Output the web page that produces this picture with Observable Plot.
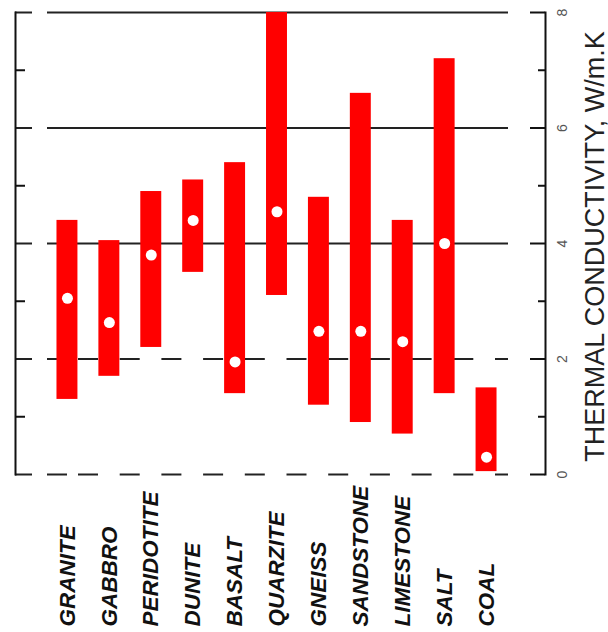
<!DOCTYPE html>
<html><head><meta charset="utf-8">
<script src="https://cdn.jsdelivr.net/npm/d3@7"></script>
<script src="https://cdn.jsdelivr.net/npm/@observablehq/plot@0.6"></script>
<style>body{margin:0;background:#fff}</style>
</head><body><div id="chart"></div>
<script>
const categories = ["GRANITE","GABBRO","PERIDOTITE","DUNITE","BASALT","QUARZITE","GNEISS","SANDSTONE","LIMESTONE","SALT","COAL"];
const lowValues  = [1.3, 1.7, 2.2, 3.5, 1.4, 3.1, 1.2, 0.9, 0.7, 1.4, 0.05];
const highValues = [4.4, 4.05, 4.9, 5.1, 5.4, 8.0, 4.8, 6.6, 4.4, 7.2, 1.5];
const meanValues = [3.05, 2.63, 3.8, 4.4, 1.95, 4.55, 2.48, 2.48, 2.3, 4.0, 0.3];
const yTickValues = [0, 2, 4, 6, 8];
const yMinorTicks = [1, 3, 5, 7];
const solidGrid = [4, 6, 8];
const dashedGrid = [0, 2];
const axisTitle = "THERMAL CONDUCTIVITY, W/m.K";

const rows = categories.map((name, i) => ({name, low: lowValues[i], high: highValues[i], mean: meanValues[i]}));

const dashPattern = [17, 15, 20, 11].concat(Array(12).fill([20, 21.7]).flat()).join(",");

const chart = Plot.plot({
  width: 608, height: 632,
  marginTop: 12, marginBottom: 158, marginLeft: 15, marginRight: 63,
  style: {fontFamily: "'Liberation Sans', Arial, sans-serif", background: "#fff"},
  x: {domain: categories, range: [46, 507], paddingInner: 0.5, paddingOuter: 0.25, round: false, label: null},
  y: {domain: [0, 8], label: null},
  marks: [
    Plot.ruleY(solidGrid, {stroke: "#222", strokeWidth: 2, insetRight: 37, strokeDasharray: "17,15,1000"}),
    Plot.ruleY(dashedGrid, {stroke: "#222", strokeWidth: 2, insetRight: 37, strokeDasharray: dashPattern}),
    Plot.ruleY(yMinorTicks, {stroke: "#111", strokeWidth: 2, insetRight: 520}),
    Plot.ruleY(yTickValues, {stroke: "#111", strokeWidth: 2, insetLeft: 515}),
    Plot.ruleY(yMinorTicks, {stroke: "#111", strokeWidth: 2, insetLeft: 523}),
    Plot.frame({anchor: "left", stroke: "#111", strokeWidth: 2}),
    Plot.frame({anchor: "right", stroke: "#111", strokeWidth: 2}),
    Plot.axisY({anchor: "right", ticks: yTickValues, tickSize: 0, tickRotate: -90, lineAnchor: "top", textAnchor: "middle", tickPadding: 12, fontSize: 14, fill: "#555", label: null}),
    Plot.barY(rows, {x: "name", y1: "low", y2: "high", fill: "#ff0000"}),
    Plot.dot(rows, {x: "name", y: "mean", r: 5.5, fill: "#fff", stroke: null}),
    Plot.axisX({anchor: "bottom", tickSize: 0, tickRotate: -90, textAnchor: "start", tickPadding: 152, fontSize: 22.5, fontWeight: "bold", fontStyle: "italic", fill: "#111", label: null}),
    Plot.text([axisTitle], {frameAnchor: "right", rotate: -90, dx: 58, dy: 3, textAnchor: "middle", lineAnchor: "bottom", fontSize: 27, fill: "#222"})
  ]
});
document.getElementById("chart").append(chart);
</script>
</body></html>
